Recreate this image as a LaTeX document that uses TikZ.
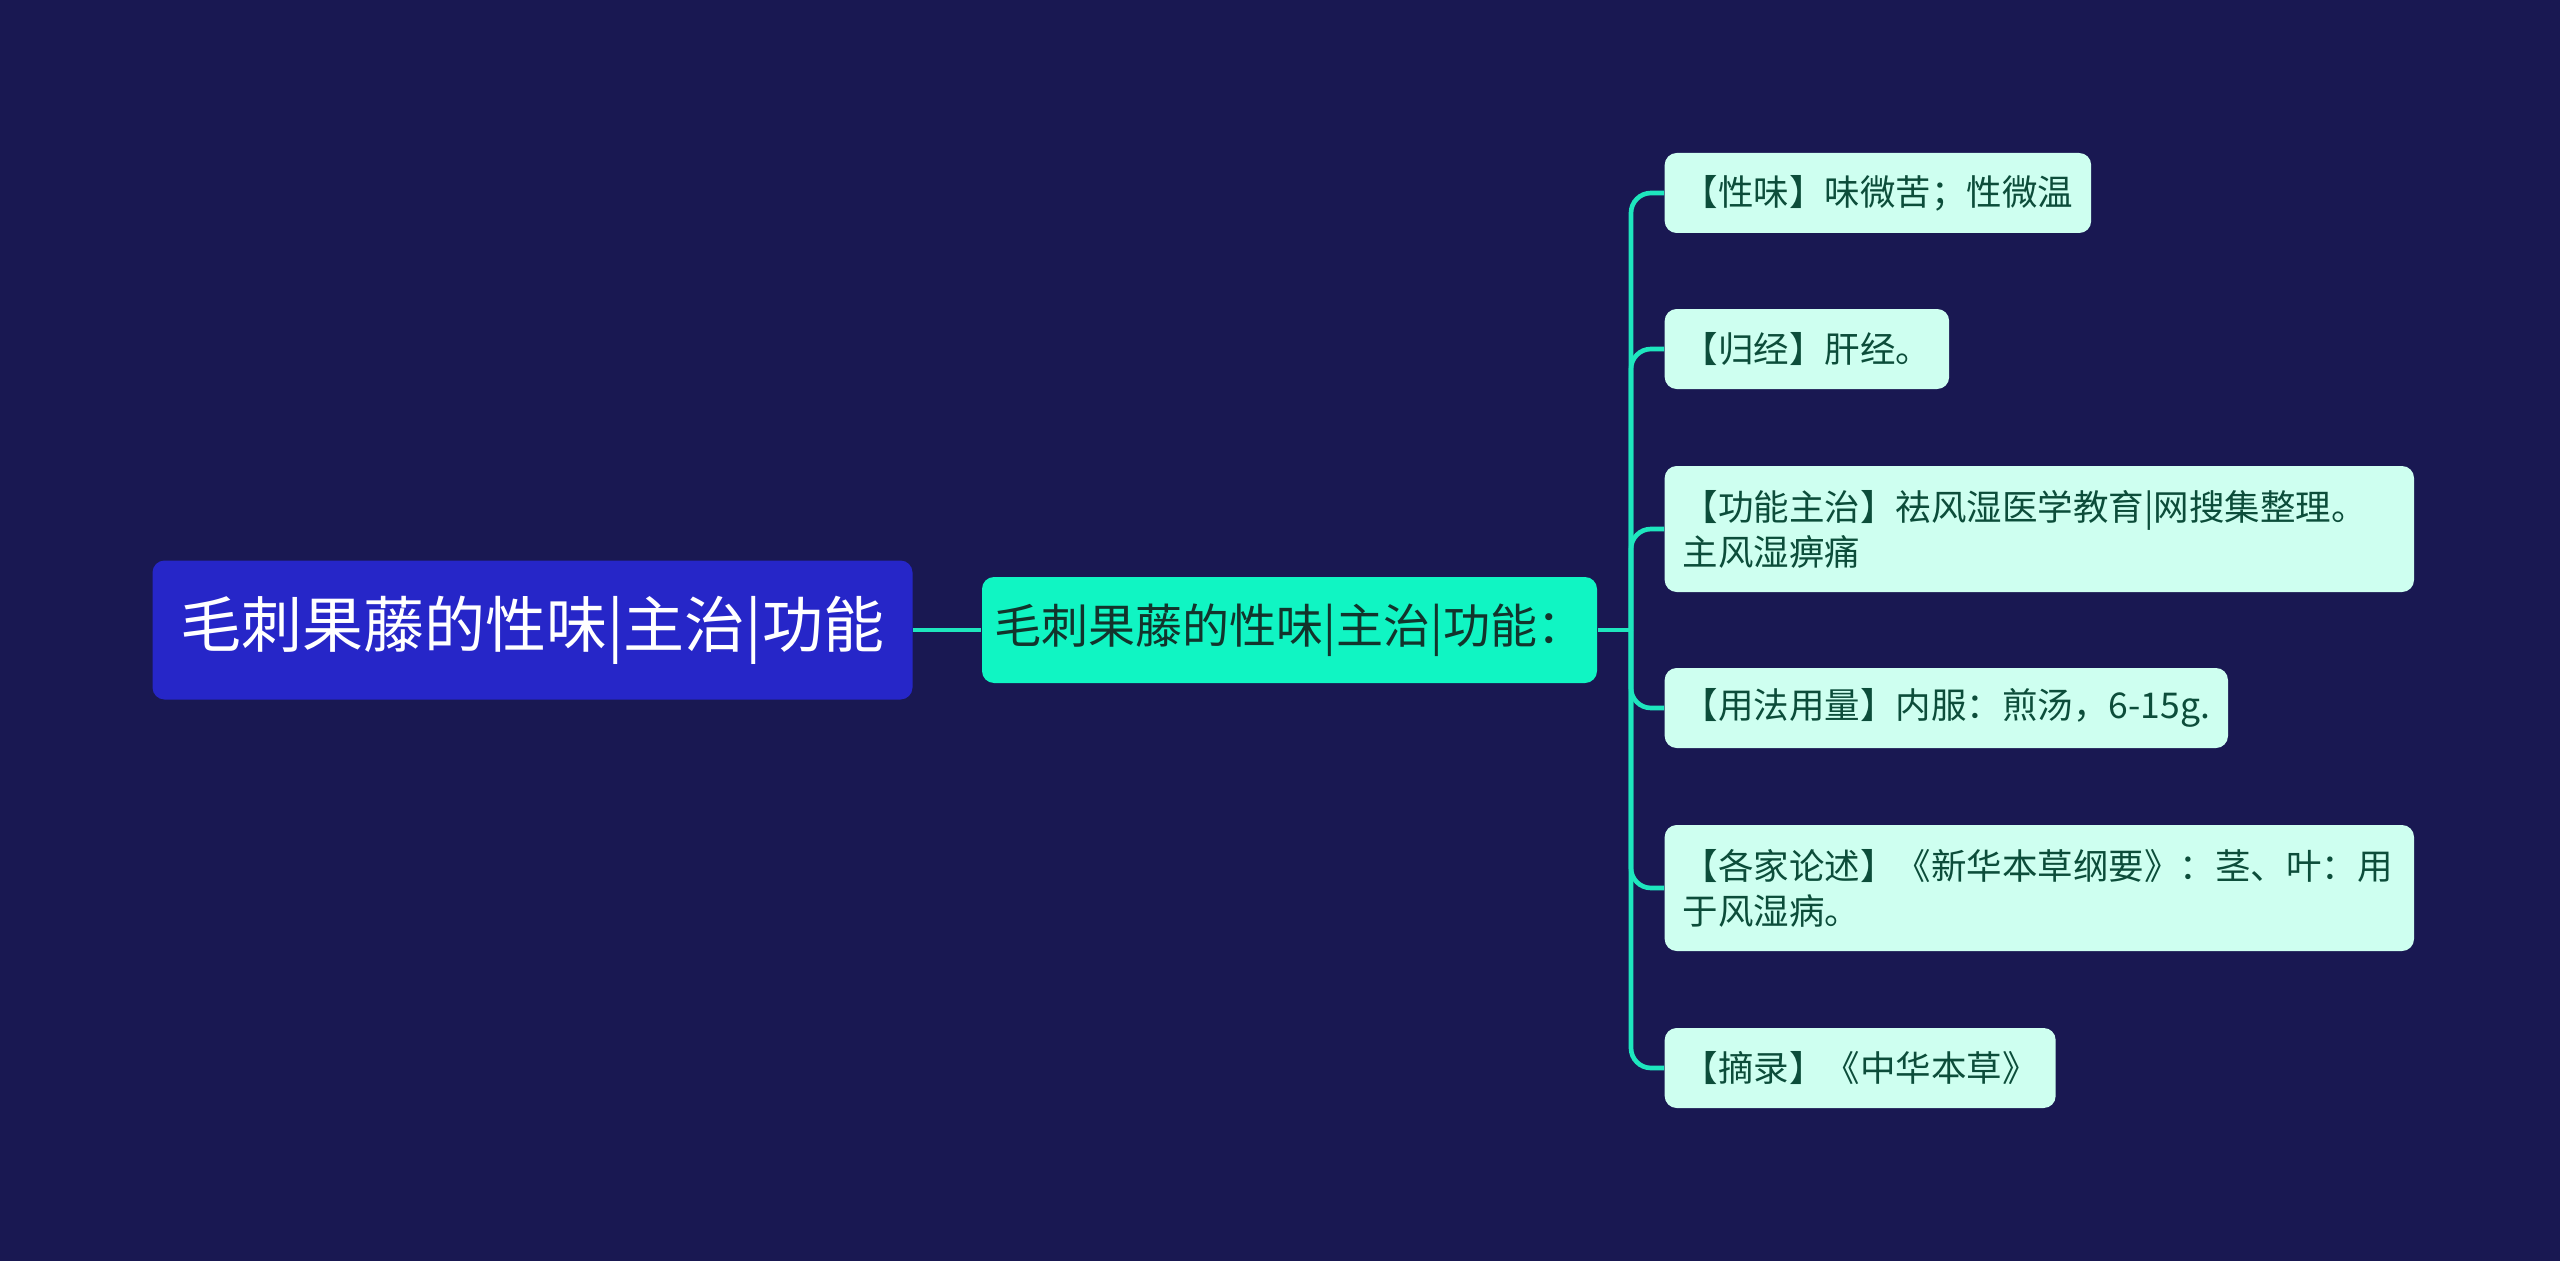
\documentclass[tikz,border=0pt]{standalone}
\usepackage{fontspec}
\setmainfont{Noto Sans CJK SC}
\usetikzlibrary{positioning}
\definecolor{bgnavy}{RGB}{25,24,82}
\definecolor{rootblue}{RGB}{38,38,200}
\definecolor{hubmint}{RGB}{16,245,195}
\definecolor{linemint}{RGB}{30,230,190}
\definecolor{leafmint}{RGB}{206,255,240}
\definecolor{leafink}{RGB}{12,77,58}
\definecolor{hubink}{RGB}{18,52,44}
\tikzset{
  rootbox/.style={fill=rootblue,text=white,rounded corners=3.6pt,
    minimum width=228pt,minimum height=41.7pt,
    font=\fontsize{18.3}{22}\selectfont},
  hubbox/.style={fill=hubmint,text=hubink,rounded corners=3.6pt,
    minimum width=184.5pt,minimum height=31.8pt,
    font=\fontsize{14.1}{17}\selectfont},
  leafbox/.style={fill=leafmint,text=leafink,rounded corners=3.6pt,
    anchor=west,inner xsep=5.4pt,minimum height=24pt,
    font=\fontsize{10.65}{13.5}\selectfont},
  widebox/.style={leafbox,align=left,text width=214pt,minimum height=37.8pt},
  branch/.style={draw=linemint,line width=1.4pt}
}
\begin{document}
\begin{tikzpicture}[x=0.3pt,y=-0.3pt]
  \fill[bgnavy] (0,0) rectangle (2560,1261);
  \useasboundingbox (0,0) rectangle (2560,1261);
  % central topic and its summary
  \node[rootbox] (root) at (532.5,630) {毛刺果藤的性味|主治|功能};
  \node[hubbox] (hub) at (1289.5,630) {毛刺果藤的性味|主治|功能：};
  % detail entries
  \node[leafbox] (xingwei) at (1664,193) {【性味】味微苦；性微温};
  \node[leafbox] (guijing) at (1664,349) {【归经】肝经。};
  \node[widebox] (zhuzhi) at (1664,529) {【功能主治】祛风湿医学教育|网搜集整理。\\主风湿痹痛};
  \node[leafbox] (yongfa) at (1664,708) {【用法用量】内服：煎汤，6-15g.};
  \node[widebox] (lunshu) at (1664,888) {【各家论述】《新华本草纲要》：茎、叶：用\\于风湿病。};
  \node[leafbox] (zhailu) at (1664,1068) {【摘录】《中华本草》};
  % connectors
  \coordinate (fork) at (1631,630);
  \draw[branch] (root) -- (hub);
  \draw[branch] (hub.east) -- (fork);
  \foreach \leaf in {xingwei,guijing,zhuzhi,yongfa,lunshu,zhailu}
    \draw[branch,rounded corners=6pt] (fork) |- (\leaf.west);
\end{tikzpicture}
\end{document}
